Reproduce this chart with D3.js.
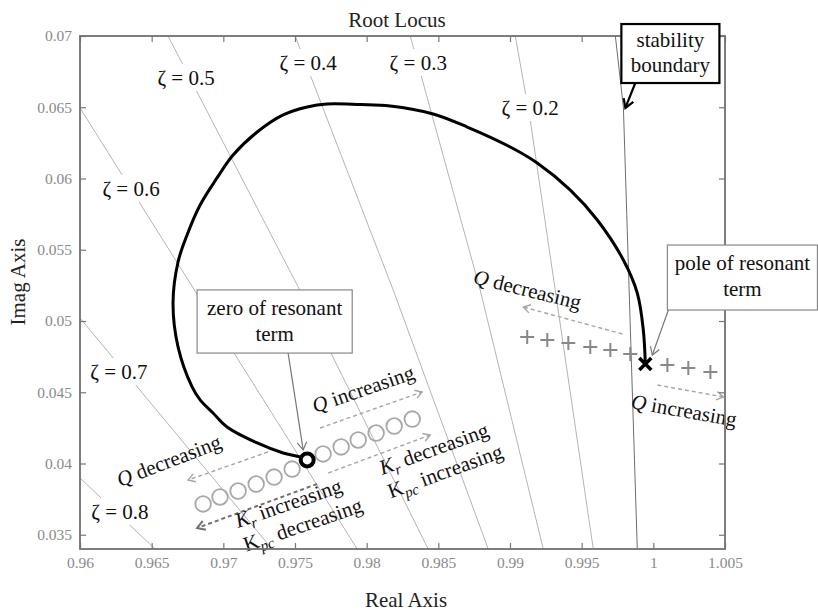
<!DOCTYPE html>
<html>
<head>
<meta charset="utf-8">
<script src="https://d3js.org/d3.v7.min.js"></script>
<style>
body { margin: 0; background: #fff; }
text { font-family: "Liberation Serif", "Times New Roman", serif; }
</style>
</head>
<body>
<script>

// axis ticks
var xTicks = [0.96, 0.965, 0.97, 0.975, 0.98, 0.985, 0.99, 0.995, 1, 1.005];
var yTicks = [0.035, 0.04, 0.045, 0.05, 0.055, 0.06, 0.065, 0.07];

// constant damping lines, and where their labels sit
var zetaNames = ["0.2", "0.3", "0.4", "0.5", "0.6", "0.7", "0.8"];
var zetaLines = [
	[[0.99037, 0.07], [0.99141, 0.06411], [0.99581, 0.034]],
	[[0.98304, 0.07], [0.98792, 0.05218], [0.99232, 0.034]],
	[[0.97501, 0.07], [0.98185, 0.05218], [0.98848, 0.034]],
	[[0.96614, 0.07], [0.97522, 0.05239], [0.98429, 0.034]],
	[[0.96, 0.06495], [0.97934, 0.034]],
	[[0.96, 0.05021], [0.9734, 0.034]],
	[[0.96, 0.03898], [0.96524, 0.034]]
];
var zetaLabelAt = [[0.99141, 0.06446], [0.9836, 0.06761], [0.97592, 0.06761], [0.9674, 0.06656],
	[0.96356, 0.05877], [0.96272, 0.04593], [0.96279, 0.0361]];
var boundary = [[0.99735, 0.07], [0.99791, 0.06502], [0.99888, 0.034]];

// root locus branch, from the zero of the resonant term to its pole
var locus = [
	[0.97585, 0.04025], [0.97536, 0.04046], [0.97417, 0.04074], [0.97236, 0.04144], [0.97026, 0.04256],
	[0.96928, 0.04354], [0.96838, 0.04446], [0.96782, 0.04537], [0.96684, 0.04818], [0.96649, 0.05126],
	[0.96684, 0.05414], [0.96747, 0.05604], [0.96838, 0.05814], [0.96956, 0.06004], [0.97068, 0.06165],
	[0.97236, 0.06326], [0.97417, 0.06446], [0.97585, 0.06502], [0.97724, 0.06523], [0.97955, 0.06519],
	[0.98164, 0.06509], [0.98464, 0.06453], [0.98702, 0.06361], [0.99002, 0.06221], [0.9919, 0.06109],
	[0.99421, 0.05919], [0.99609, 0.05709], [0.99791, 0.05428], [0.99888, 0.05196], [0.9993, 0.04937],
	[0.99944, 0.04698]
];
var zero = [0.97585, 0.04025];
var pole = [0.99944, 0.04698];

// where the zero and pole move to for other parameter values
var zeroTrail = [[0.96859, 0.03716], [0.96977, 0.03765], [0.97103, 0.03807], [0.97229, 0.03856],
	[0.97354, 0.03905], [0.9748, 0.03961], [0.97696, 0.04067], [0.97822, 0.04116], [0.97941, 0.04165],
	[0.98066, 0.04214], [0.98192, 0.04263], [0.98318, 0.04312]];
var poleTrail = [[0.9912, 0.04888], [0.9926, 0.04867], [0.99407, 0.04846], [0.9956, 0.04818],
	[0.997, 0.04796], [0.99839, 0.04768], [1.00098, 0.04691], [1.00244, 0.0467], [1.00398, 0.04642]];

// dashed direction arrows [from, to]
var lightArrows = [
	[[0.97675, 0.04249], [0.98387, 0.04502]],
	[[0.97731, 0.03933], [0.98443, 0.042]],
	[[0.97312, 0.04081], [0.96754, 0.03884]],
	[[0.99784, 0.04909], [0.99093, 0.05098]],
	[[1.00028, 0.04551], [1.00489, 0.04467]]
];
var darkArrows = [
	[[0.97654, 0.03856], [0.96817, 0.03547]]
];

// rotated notes: baseline start, angle, lines of [text, style]
var notes = [
	{ at: [0.9764, 0.04354], angle: -19, lines: [[["Q", "i"], [" increasing"]]] },
	{ at: [0.98108, 0.03919], angle: -20, lines: [[["K", "i"], ["r", "s"], [" decreasing"]], [["K"], ["pc", "s"], [" increasing"]]] },
	{ at: [0.97103, 0.03547], angle: -19, lines: [[["K", "i"], ["r", "s"], [" increasing"]], [["K"], ["pc", "s"], [" decreasing"]]] },
	{ at: [0.96279, 0.03835], angle: -21, lines: [[["Q", "i"], [" decreasing"]]] },
	{ at: [0.98736, 0.05267], angle: 14, lines: [[["Q", "i"], [" decreasing"]]] },
	{ at: [0.99839, 0.04389], angle: 10, lines: [[["Q", "i"], [" increasing"]]] }
];

// boxed callouts: top-left, bottom-right, arrow from, arrow to
var callouts = [
	{ lines: ["stability", "boundary"], tl: [0.99777, 0.07084], br: [1.00461, 0.0667], from: [0.99874, 0.0667], to: [0.99805, 0.06495], dark: true },
	{ lines: ["zero of resonant", "term"], tl: [0.96817, 0.05218], br: [0.97899, 0.04775], from: [0.97452, 0.04775], to: [0.97557, 0.04095], dark: false },
	{ lines: ["pole of resonant", "term"], tl: [1.00098, 0.05533], br: [1.01145, 0.05077], from: [1.00105, 0.05077], to: [0.99993, 0.04761], dark: false }
];

var W = 818, H = 612;
var margin = { top: 36, right: 93, bottom: 63, left: 80 };
var width = W - margin.left - margin.right,
	height = H - margin.top - margin.bottom;

var svg = d3.select("body").append("svg")
	.attr("width", W)
	.attr("height", H);

var g = svg.append("g")
	.attr("transform", "translate(" + margin.left + "," + margin.top + ")");

var x = d3.scaleLinear().domain([0.96, 1.005]).range([0, width]);
var y = d3.scaleLinear().domain([0.034, 0.07]).range([height, 0]);

g.append("defs").append("clipPath")
	.attr("id", "clip")
	.append("rect")
	.attr("width", width)
	.attr("height", height);

var line = d3.line()
	.x(function (d) { return x(d[0]); })
	.y(function (d) { return y(d[1]); });

var grid = g.append("g").attr("clip-path", "url(#clip)");

grid.selectAll(".zeta")
	.data(zetaLines)
	.enter().append("path")
	.attr("class", "zeta")
	.attr("d", line)
	.attr("fill", "none")
	.attr("stroke", "#b4b4b4")
	.attr("stroke-width", 1);

grid.append("path")
	.datum(boundary)
	.attr("d", line)
	.attr("fill", "none")
	.attr("stroke", "#6e6e6e")
	.attr("stroke-width", 1);

// zeta labels sit on white so the grid line breaks around them
zetaNames.forEach(function (name, i) {
	var lg = g.append("g");
	var t = lg.append("text")
		.attr("x", x(zetaLabelAt[i][0]))
		.attr("y", y(zetaLabelAt[i][1]))
		.attr("text-anchor", "middle")
		.style("font-size", "21px")
		.attr("fill", "#111")
		.text("\u03B6 = " + name);
	var b = t.node().getBBox();
	lg.insert("rect", "text")
		.attr("x", b.x - 3)
		.attr("y", b.y - 2)
		.attr("width", b.width + 6)
		.attr("height", b.height + 3)
		.attr("fill", "#fff");
});

// locus
var smooth = d3.line()
	.x(function (d) { return x(d[0]); })
	.y(function (d) { return y(d[1]); })
	.curve(d3.curveCatmullRom.alpha(0.5));

g.append("path")
	.datum(locus)
	.attr("d", smooth)
	.attr("fill", "none")
	.attr("stroke", "#000")
	.attr("stroke-width", 3)
	.attr("clip-path", "url(#clip)");

g.selectAll(".ztrail")
	.data(zeroTrail)
	.enter().append("circle")
	.attr("class", "ztrail")
	.attr("cx", function (d) { return x(d[0]); })
	.attr("cy", function (d) { return y(d[1]); })
	.attr("r", 7.8)
	.attr("fill", "none")
	.attr("stroke", "#a8a8a8")
	.attr("stroke-width", 1.8);

g.selectAll(".ptrail")
	.data(poleTrail)
	.enter().append("path")
	.attr("class", "ptrail")
	.attr("transform", function (d) { return "translate(" + x(d[0]) + "," + y(d[1]) + ")"; })
	.attr("d", "M-7,0H7M0,-7V7")
	.attr("stroke", "#888")
	.attr("stroke-width", 2);

g.append("circle")
	.attr("cx", x(zero[0]))
	.attr("cy", y(zero[1]))
	.attr("r", 6.5)
	.attr("fill", "#fff")
	.attr("stroke", "#000")
	.attr("stroke-width", 4);

g.append("path")
	.attr("transform", "translate(" + x(pole[0]) + "," + y(pole[1]) + ")")
	.attr("d", "M-6,-6L6,6M-6,6L6,-6")
	.attr("stroke", "#000")
	.attr("stroke-width", 3.5);

function arrow(sel, p1, p2, color, w, dash, h) {
	var x1 = x(p1[0]), y1 = y(p1[1]), x2 = x(p2[0]), y2 = y(p2[1]);
	var a = Math.atan2(y2 - y1, x2 - x1), s = 0.55;
	sel.append("line")
		.attr("x1", x1).attr("y1", y1)
		.attr("x2", x2).attr("y2", y2)
		.attr("stroke", color)
		.attr("stroke-width", w)
		.attr("stroke-dasharray", dash);
	sel.append("path")
		.attr("d", "M" + (x2 - h * Math.cos(a - s)) + "," + (y2 - h * Math.sin(a - s)) +
			"L" + x2 + "," + y2 +
			"L" + (x2 - h * Math.cos(a + s)) + "," + (y2 - h * Math.sin(a + s)))
		.attr("fill", "none")
		.attr("stroke", color)
		.attr("stroke-width", w);
}

var ann = g.append("g");
lightArrows.forEach(function (a) { arrow(ann, a[0], a[1], "#a6a6a6", 1.4, "4,3", 8); });
darkArrows.forEach(function (a) { arrow(ann, a[0], a[1], "#707070", 2, "4,3", 9); });

// rotated notes
notes.forEach(function (n) {
	var t = ann.append("text")
		.attr("transform", "translate(" + x(n.at[0]) + "," + y(n.at[1]) + ") rotate(" + n.angle + ")")
		.style("font-size", "21px")
		.attr("fill", "#111");
	n.lines.forEach(function (parts, li) {
		parts.forEach(function (p, k) {
			var ts = t.append("tspan").text(p[0]);
			if (k === 0) ts.attr("x", 0).attr("y", li * 25);
			if (p[1] === "i") ts.style("font-style", "italic");
			if (p[1] === "s") {
				ts.style("font-style", "italic").style("font-size", "15px").attr("dy", 5);
			} else if (k > 0 && parts[k - 1][1] === "s") {
				// come back up after a subscript
				ts.attr("dy", -5);
			}
		});
	});
});

// axes box and inward ticks
var xb = d3.axisBottom(x).tickValues(xTicks).tickSizeInner(-6).tickSizeOuter(0).tickPadding(8)
	.tickFormat(function (d) { return String(d); });
var yl = d3.axisLeft(y).tickValues(yTicks).tickSizeInner(-6).tickSizeOuter(0).tickPadding(8)
	.tickFormat(function (d) { return String(d); });

g.append("g").attr("transform", "translate(0," + height + ")").call(xb);
g.append("g").call(yl);
g.append("g").call(d3.axisTop(x).tickValues(xTicks).tickSizeInner(-6).tickSizeOuter(0).tickFormat(""));
g.append("g").attr("transform", "translate(" + width + ",0)")
	.call(d3.axisRight(y).tickValues(yTicks).tickSizeInner(-6).tickSizeOuter(0).tickFormat(""));

g.selectAll(".domain").remove();
g.selectAll(".tick line").attr("stroke", "#777").attr("stroke-width", 1.2);
g.selectAll(".tick text")
	.attr("fill", "#8a8a8a")
	.style("font-family", "'Liberation Serif', serif")
	.style("font-size", "15.5px");

g.append("rect")
	.attr("width", width)
	.attr("height", height)
	.attr("fill", "none")
	.attr("stroke", "#707070")
	.attr("stroke-width", 1.8);

// callout boxes sit above the axes
callouts.forEach(function (c) {
	var x0 = x(c.tl[0]), y0 = y(c.tl[1]), x1 = x(c.br[0]), y1 = y(c.br[1]);
	var col = c.dark ? "#000" : "#888";
	g.append("rect")
		.attr("x", x0).attr("y", y0)
		.attr("width", x1 - x0).attr("height", y1 - y0)
		.attr("fill", "#fff")
		.attr("stroke", col)
		.attr("stroke-width", c.dark ? 2.2 : 1.2);
	var t = g.append("text")
		.attr("text-anchor", "middle")
		.style("font-size", "21px")
		.attr("fill", "#111");
	c.lines.forEach(function (s, i) {
		t.append("tspan")
			.attr("x", (x0 + x1) / 2)
			.attr("y", y0 + (c.dark ? 23 : 25) + i * (c.dark ? 25 : 26))
			.text(s);
	});
	arrow(g, c.from, c.to, c.dark ? "#000" : "#777", c.dark ? 2.2 : 1.2, null, c.dark ? 10 : 9);
});

// titles
svg.append("text")
	.attr("x", 397)
	.attr("y", 27)
	.attr("text-anchor", "middle")
	.style("font-size", "21px")
	.attr("fill", "#222")
	.text("Root Locus");

svg.append("text")
	.attr("x", 406)
	.attr("y", 607)
	.attr("text-anchor", "middle")
	.style("font-size", "21px")
	.attr("fill", "#222")
	.text("Real Axis");

svg.append("text")
	.attr("transform", "translate(25,282) rotate(-90)")
	.attr("text-anchor", "middle")
	.style("font-size", "21px")
	.attr("fill", "#222")
	.text("Imag Axis");

</script>
</body>
</html>
